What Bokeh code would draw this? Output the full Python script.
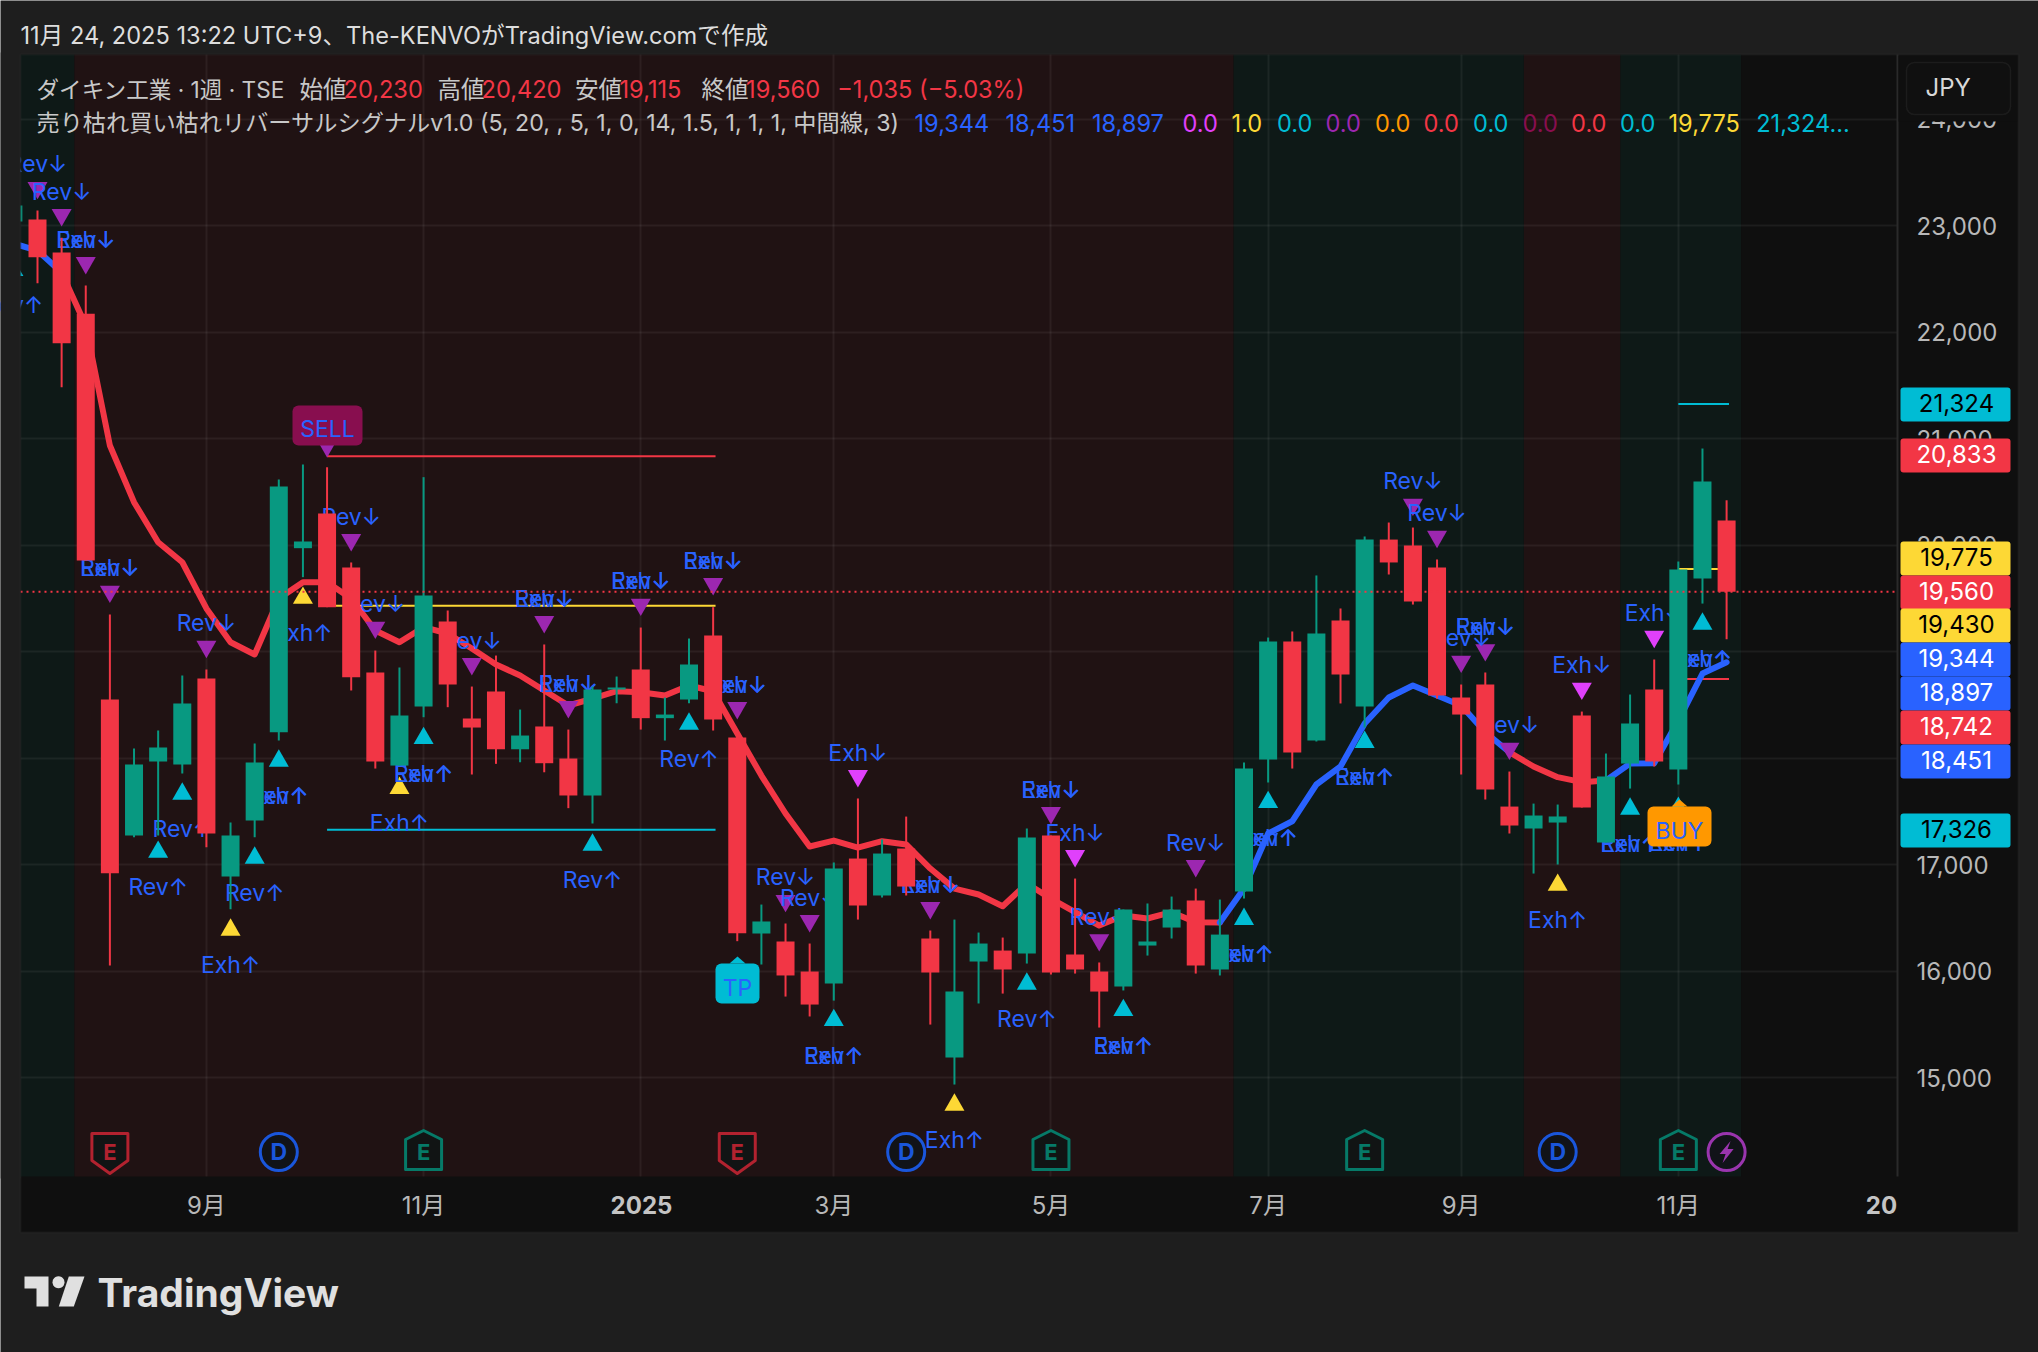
from bokeh.plotting import figure
from bokeh.embed import file_html
from bokeh.resources import INLINE
from bokeh.core.properties import value
from bokeh.models import (Range1d, FixedTicker, NumeralTickFormatter, Label, BoxAnnotation,
                          PolyAnnotation, LinearAxis)
import numpy as np

# ---------- data ----------
first_bar = -1
opens = [23038,23056,22746,22171,18549,17272,17967,17939,18746,16887,17413,18242,19970,20296,19789,18803,
         17929,18484,19282,18371,18624,18082,18296,17995,17648,18643,18831,18374,18549,19150,18192,16352,
         16277,15995,15882,17056,16709,17150,16305,15188,16089,16192,16164,17272,16155,15995,15854,16239,
         16408,16662,16014,16746,17986,19094,18164,19291,18484,20051,19995,19789,18568,18690,17544,17338,
         17394,18399,17206,17948,18643,17892,19685,20230]
closes = [23188,22702,21895,19854,16918,17939,18098,18512,17291,17272,17958,20549,20033,19416,18759,17967,
          18399,19526,18690,18286,18082,18211,17951,17648,18643,18662,18374,18408,18878,18361,16355,16465,
          15958,15685,16962,16615,17103,16793,15986,15807,16258,16014,17254,15986,16014,15807,16577,16277,
          16577,16051,16342,17901,19094,18051,19169,18784,20051,19836,19469,18587,18408,17704,17366,17460,
          17451,17535,17826,18324,17967,19770,20596,19560]
highs = [23188,23141,22885,22437,19347,18089,18258,18775,18831,17394,18136,20615,20756,20730,19836,19009,
         18850,20637,19385,18671,18962,18455,19066,18267,18670,18765,19225,18568,19122,19416,18258,16624,
         16446,16258,17019,17620,17235,17450,16380,16483,16361,16314,17338,17272,16868,16080,16577,16634,
         16699,16774,16671,17958,19131,19188,19714,19404,20080,20211,20164,19864,18690,18803,17873,17572,
         17563,18436,18042,18596,18925,19845,20906,20420]
lows = [23038,22458,21482,19854,16051,17256,17272,17854,17162,16580,17256,18164,19698,19416,18634,17901,
        17929,18383,18477,17845,17945,17960,17866,17529,17385,18514,18267,18164,18514,18258,16280,16061,
        15760,15573,15722,16483,16690,16709,15497,14934,15695,15788,16070,15967,15976,15469,15817,16145,
        16305,15976,15958,16680,17770,17901,18155,18512,18286,19723,19441,18558,17845,17610,17291,16915,
        17000,17535,17206,17713,17920,17751,19450,19115]
ema = [22831,22765,22559,22061,20934,20402,20026,19838,19404,19087,18972,19498,19651,19651,19498,19197,
       19087,19228,19169,19028,18878,18775,18634,18493,18558,18627,18618,18587,18681,18627,18230,17835,
       17479,17169,17225,17159,17219,17188,16962,16774,16718,16608,16821,16680,16552,16427,16521,16493,
       16552,16458,16455,16774,17291,17406,17751,17920,18324,18568,18681,18587,18493,18242,18054,17920,
       17820,17773,17789,17948,17951,18352,18793,18899]
ema_up_ranges = [(-1, 1), (49, 61), (65, 70)]
ema_down_ranges = [(1, 49), (61, 65)]

down_bars = [0,1,2,3,7,12,13,14,18,21,22,25,28,29,31,32,34,37,42,43,44,48,57,58,59,60,61,64,67]
down_levels = [23329,23075,22624,19538,19021,20906,20023,19200,18859,19253,18455,19416,19610,18446,16634,
               16446,17807,16568,17460,17056,16267,16962,20355,20054,18881,18990,18064,18627,19115]
down_kinds = ["R","R","B","B","R","S","R","R","R","B","B","B","B","B","R","R","X","B","B","X","R","R",
              "R","R","R","B","R","X","X"]
up_bars = [-1,5,6,8,9,10,11,15,16,23,27,33,38,41,45,50,51,55,63,66,68,69]
up_levels = [22606,17143,17688,16411,17087,17998,19528,17742,18211,17209,18345,15563,14768,15904,15657,
             16512,17610,18174,16833,17547,17554,19284]
up_kinds = ["R","R","R","X","R","B","X","X","B","R","R","B","X","R","B","B","B","B","X","B","B","B"]

level_lines = [("#F23645", 20833, 12, 28.1), ("#FDD835", 19430, 12, 28.1), ("#00BCD4", 17326, 12, 28.1),
               ("#00BCD4", 21324, 68, 70.1), ("#FDD835", 19775, 68, 70.1), ("#F23645", 18742, 68, 70.1)]
last_price = 19560

zones = [(1.53, 49.57, "#201213"), (49.57, 61.6, "#0E1917"), (61.6, 65.6, "#201213"), (65.6, 70.6, "#0E1917")]
first_zone_end, first_zone_color = 1.53, "#0E1917"

price_ticks = [15000,16000,17000,18000,19000,20000,21000,22000,23000,24000]
month_ticks = [7,16,25,33,42,51,59,68]
month_labels = ["9月","11月","","3月","5月","7月","9月","11月"]

earn_down = [3, 29]
earn_up = [16, 42, 55, 68]
divs = [10, 36, 63]
flash = [70]

price_tags = [("21,324","#00BCD4","#000000",404),("20,833","#F23645","#FFFFFF",455),
              ("19,775","#FDD835","#000000",558),("19,560","#F23645","#FFFFFF",592),
              ("19,430","#FDD835","#000000",625),("19,344","#2962FF","#FFFFFF",659),
              ("18,897","#2962FF","#FFFFFF",693),("18,742","#F23645","#FFFFFF",727),
              ("18,451","#2962FF","#FFFFFF",761),("17,326","#00BCD4","#000000",830)]

legend_1 = [(36,"ダイキン工業 · 1週 · TSE","#C8C8C8"),(299,"始値","#C8C8C8"),(343,"20,230","#F23645"),
            (437,"高値","#C8C8C8"),(481,"20,420","#F23645"),(574.5,"安値","#C8C8C8"),(619,"19,115","#F23645"),
            (701,"終値","#C8C8C8"),(745.6,"19,560","#F23645"),(836.7,"−1,035 (−5.03%)","#F23645")]
legend_2 = [(36,"売り枯れ買い枯れリバーサルシグナルv1.0 (5, 20, , 5, 1, 0, 14, 1.5, 1, 1, 1, 中間線, 3)","#C8C8C8"),
            (914,"19,344","#2962FF"),(1005,"18,451","#2962FF"),(1091.4,"18,897","#2962FF"),
            (1182,"0.0","#E040FB"),(1231,"1.0","#FDD835"),(1276.5,"0.0","#00BCD4"),(1325,"0.0","#9C27B0"),
            (1374.5,"0.0","#FF9800"),(1423,"0.0","#F23645"),(1472.6,"0.0","#00BCD4"),(1522,"0.0","#880E4F"),
            (1570.6,"0.0","#F23645"),(1619.5,"0.0","#00BCD4"),(1668,"19,775","#FDD835"),(1755.7,"21,324...","#00BCD4")]

# ---------- geometry (reference page pixels) ----------
FRAME_L, FRAME_R, FRAME_T, FRAME_B = 20, 1897, 54, 1176
PX_PER_BAR = 24.13
PX_PER_PRICE = 0.1065

def dx(px):
    return (px - 37) / PX_PER_BAR

def dy(py):
    return 23000 - (py - 225) / PX_PER_PRICE

FONT = "Inter, 'Noto Sans CJK JP'"
SIZE = "24px"
RED, GREEN = "#F23645", "#089981"
BLUE = "#2962FF"
U = "canvas"

p = figure(width=2038, height=1352, output_backend="svg", toolbar_location=None,
           x_range=Range1d(dx(0), dx(2038)), y_range=Range1d(dy(1352), dy(0)),
           x_axis_location=None, y_axis_location=None,
           min_border_left=0, min_border_right=0, min_border_top=0, min_border_bottom=0,
           background_fill_color="#1E1E1E", border_fill_color="#1E1E1E", outline_line_color=None,
           tools="")

# axes: pinned to the pane edges
yaxis = LinearAxis(ticker=FixedTicker(ticks=price_ticks), formatter=NumeralTickFormatter(format="0,0"),
                   fixed_location=dx(FRAME_R), major_label_standoff=13)
xaxis = LinearAxis(ticker=FixedTicker(ticks=month_ticks), major_label_overrides=dict(zip(month_ticks, month_labels)),
                   fixed_location=dy(FRAME_B), major_label_standoff=8)
for ax in (xaxis, yaxis):
    ax.axis_line_color = None
    ax.major_tick_line_color = None
    ax.minor_tick_line_color = None
    ax.major_label_text_color = "#B8B8B8"
    ax.major_label_text_font = FONT
    ax.major_label_text_font_size = SIZE
p.add_layout(yaxis, "right")
p.add_layout(xaxis, "below")
p.ygrid.ticker = yaxis.ticker
p.ygrid.cross_bounds = (dx(FRAME_L), dx(FRAME_R))
p.xgrid.ticker = xaxis.ticker
p.xgrid.cross_bounds = (dy(FRAME_B), dy(FRAME_T))
for g in (p.xgrid, p.ygrid):
    g.grid_line_color = "#FFFFFF"
    g.grid_line_alpha = 0.06
    g.grid_line_width = 2

def box(x0, x1, y0, y1, color, radius=0, line=None, level="annotation", alpha=1, lw=1):
    b = BoxAnnotation(left=x0, right=x1, top=y0, bottom=y1, left_units=U, right_units=U, top_units=U,
                      bottom_units=U, fill_color=color, fill_alpha=alpha, line_color=line, line_width=lw,
                      border_radius=radius, level=level)
    p.add_layout(b)

def label(x, y, text, color, align="left", size=SIZE, style="normal", font=FONT):
    p.add_layout(Label(x=x, y=y, x_units=U, y_units=U, text=text, text_color=color, text_align=align,
                       text_baseline="middle", text_font=font, text_font_size=size,
                       text_font_style=style))

def poly(px_xs, px_ys, color):
    p.add_layout(PolyAnnotation(xs=list(px_xs), ys=list(px_ys), xs_units=U, ys_units=U, fill_color=color,
                                fill_alpha=1, line_color=None))

# chart panel and zones
p.quad(left=[dx(FRAME_L)], right=[dx(2018)], bottom=[dy(1232)], top=[dy(FRAME_T)],
       fill_color="#0F0F0F", line_color=None, level="image")
p.quad(left=[dx(FRAME_L)] + [z[0] for z in zones], right=[first_zone_end] + [z[1] for z in zones],
       bottom=dy(FRAME_B), top=dy(FRAME_T), fill_color=[first_zone_color] + [z[2] for z in zones],
       line_color=None, level="image")

# level lines
p.segment(x0=[l[2] for l in level_lines], x1=[l[3] for l in level_lines],
          y0=[l[1] for l in level_lines], y1=[l[1] for l in level_lines],
          line_color=[l[0] for l in level_lines], line_width=2)

# moving average
bars = np.arange(first_bar, first_bar + len(opens))
ema_arr = np.array(ema)
for ranges, col in ((ema_down_ranges, RED), (ema_up_ranges, BLUE)):
    for a, b in ranges:
        mask = (bars >= a) & (bars <= b)
        p.line(bars[mask], ema_arr[mask], line_color=col, line_width=6, line_join="round", line_cap="round")

# triangles
TRI_SHIFT = 25
tri_dn_col = {"R": "#9C27B0", "B": "#9C27B0", "S": "#9C27B0", "X": "#E040FB"}
tri_up_col = {"R": "#00BCD4", "B": "#00BCD4", "X": "#FDD835"}
p.scatter(down_bars, [v + TRI_SHIFT for v in down_levels], marker="inverted_triangle", size=20,
          fill_color=[tri_dn_col[k] for k in down_kinds], line_color=None)
p.scatter(up_bars, [v - TRI_SHIFT for v in up_levels], marker="triangle", size=20,
          fill_color=[tri_up_col[k] for k in up_kinds], line_color=None)

# signal texts (kept under the candles)
def texts(bars_, levels, kinds, rev, exh, off):
    xs, ys, ts = [], [], []
    for b, v, k in zip(bars_, levels, kinds):
        if k in ("R", "B"):
            xs.append(b); ys.append(v); ts.append(rev)
        if k in ("X", "B"):
            xs.append(b); ys.append(v); ts.append(exh)
    p.text(xs, ys, text=ts, text_color=BLUE, text_font=value("Inter"), text_font_size="23px",
           text_align="center", text_baseline="middle", y_offset=off)

texts(down_bars, down_levels, down_kinds, "Rev↓", "Exh↓", -26)
texts(up_bars, up_levels, up_kinds, "Rev↑", "Exh↑", 38)

# candles
o, c, h, l = map(np.array, (opens, closes, highs, lows))
cols = [GREEN if a > b else RED for a, b in zip(c, o)]
p.segment(bars, h, bars, l, line_color=cols, line_width=2)
p.vbar(bars, width=18 / PX_PER_BAR, top=np.maximum(o, c), bottom=np.minimum(o, c),
       fill_color=cols, line_color=None)

# last price
p.segment([dx(FRAME_L)], [last_price], [dx(FRAME_R)], [last_price], line_color=RED, line_width=2, line_dash="2 4")

# event icons
def shield(bar, pts, color):
    xs = [bar + a / PX_PER_BAR for a, _ in pts]
    ys = [dy(1152 + b) for _, b in pts]
    p.patch(xs, ys, fill_color="#111414", line_color=color, line_width=3, line_join="round")
    p.text([bar], [dy(1151)], text=["E"], text_color=color, text_font=value("Inter"), text_font_size="22px",
           text_font_style="bold", text_align="center", text_baseline="middle")

for b in earn_down:
    shield(b, [(-18, -19), (18, -19), (18, 8), (0, 21), (-18, 8)], "#B2222F")
for b in earn_up:
    shield(b, [(0, -22), (18, -13), (18, 17), (-18, 17), (-18, -13)], "#067A68")
p.scatter(divs, [dy(1151.5)] * len(divs), marker="circle", size=37, fill_color="#111318",
          line_color="#1A56DB", line_width=3)
p.text(divs, [dy(1151)] * len(divs), text=["D"] * len(divs), text_color="#1A56DB", text_font=value("Inter"),
       text_font_size="23px", text_font_style="bold", text_align="center", text_baseline="middle")
p.scatter(flash, [dy(1151.5)], marker="circle", size=37, fill_color="#111318", line_color="#9A35AE", line_width=3)
for b in flash:
    bolt = [(4, -11), (-7, 2), (-1, 2), (-4, 11), (7, -3), (1, -3)]
    p.patch([b + a / PX_PER_BAR for a, _ in bolt], [dy(1151.5 + d) for _, d in bolt], fill_color="#9A35AE",
            line_color=None)

# signal flags
box(292, 362, 405, 445, "#880E4F", radius=6)
label(327, 428, "SELL", BLUE, "center", size="23px")
poly([729, 745, 737], [963, 963, 956], "#00BCD4")
box(715, 759, 963, 1003, "#00BCD4", radius=6)
label(737, 987, "TP", BLUE, "center", size="23px")
poly([1671, 1687, 1679], [806, 806, 799], "#FF9800")
box(1647, 1711, 806, 846, "#FF9800", radius=6)
label(1679, 830, "BUY", BLUE, "center", size="23px")

# left mask, right edge line of the pane, covers and frame
box(0, FRAME_L, FRAME_T - 2, FRAME_B + 2, "#1E1E1E")
box(FRAME_R - 1, FRAME_R + 1, FRAME_T, FRAME_B, "#2A2A2A")
box(FRAME_R + 1, 2017, FRAME_T + 1, 121, "#0F0F0F")
box(1906, 2010, 62, 114, "#101010", radius=8, line="#3A3A3A", lw=1.5)
label(1925, 87, "JPY", "#D8D8D8")
for txt, bg, fg, py in price_tags:
    box(1900, 2010, py - 17, py + 17, bg, radius=3)
    label(1956, py - 1.3, txt, fg, "center")
box(FRAME_L, 2018, FRAME_T, 1232, "#000000", line="#2E2E2E", lw=2, alpha=0)

# bold x labels
label(641, 1204, "2025", "#C4C4C4", "center", style="bold")
label(1881, 1204, "20", "#C4C4C4", "center", style="bold")

# legend
for i, (x, txt, col) in enumerate(legend_1):
    label(x, 88.7, txt, col, size="22.6px" if i == 0 else "23.6px")
for i, (x, txt, col) in enumerate(legend_2):
    label(x, 122.7, txt, col, size="23.2px" if i == 0 else "23.6px")

# page header
label(20, 35, "11月 24, 2025 13:22 UTC+9、The-KENVOがTradingView.comで作成", "#DDDDDD", size="23.6px")

# logo
poly([24, 48, 48, 36, 36, 24], [1276, 1276, 1306, 1306, 1288, 1288], "#E0E0E0")
th = np.linspace(0, 2 * np.pi, 24, endpoint=False)
poly(58 + 6 * np.cos(th), 1281.7 + 6 * np.sin(th), "#E0E0E0")
poly([68.3, 84, 73.3, 58.3], [1276, 1276, 1306, 1306], "#E0E0E0")
label(97, 1292, "TradingView", "#E0E0E0", size="39px", style="bold", font="Inter")

open("out.html", "w").write(file_html(p, INLINE))
